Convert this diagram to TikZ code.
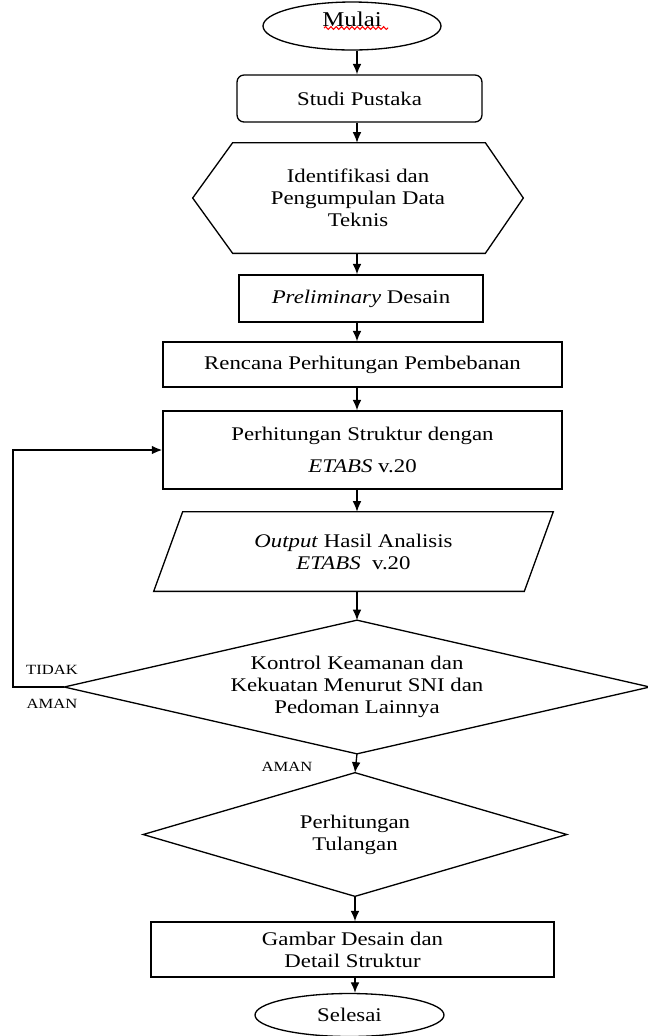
\documentclass[tikz,border=0pt]{standalone}
\usepackage{fontspec}
\setmainfont{Liberation Serif}[FakeStretch=1.18]
\usetikzlibrary{shapes.geometric,arrows.meta,decorations.pathmorphing}

\tikzset{
  txt/.style={font=\fontsize{11}{12.6}\selectfont, align=center, inner sep=0pt},
  box/.style={txt, draw, line width=0.75pt, rectangle},
  term/.style={txt, draw, line width=0.75pt, ellipse},
  outline/.style={line width=0.75pt, line join=miter},
  arr/.style={-{Latex[length=6pt,width=5pt]}, line width=0.75pt},
  tag/.style={font=\fontsize{8}{9}\selectfont, inner sep=0pt},
  spell/.style={red, line width=0.6pt, decorate, decoration={snake, amplitude=0.8pt, segment length=3pt}},
}

\begin{document}
\begin{tikzpicture}[x=0.02cm, y=-0.02cm]
  \useasboundingbox (0,0) rectangle (648,1036);
  \coordinate (axis) at (357,0);
  \coordinate (loop) at (13,450);

  \node[term, minimum width=3.56cm, minimum height=0.96cm, font=\fontsize{12}{14}\selectfont, text depth=8pt] (mulai) at (352,26) {Mulai};
  \node[box, rounded corners=4pt, minimum width=4.9cm, minimum height=0.94cm] (studi) at (359.5,98.5) {Studi Pustaka};
  \node[txt, minimum width=6.6cm, minimum height=2.2cm] (ident) at (358,198) {Identifikasi dan\\Pengumpulan Data\\Teknis};
  \node[box, minimum width=4.88cm, minimum height=0.94cm] (prelim) at (361,298.5) {\textit{Preliminary} Desain};
  \node[box, minimum width=7.98cm, minimum height=0.9cm] (beban) at (362.5,364.5) {Rencana Perhitungan Pembebanan};
  \node[box, minimum width=7.98cm, minimum height=1.56cm] (etabs) at (362.5,450) {Perhitungan Struktur dengan\\[6pt]\textit{ETABS} v.20};
  \node[txt, minimum width=7.98cm, minimum height=1.58cm] (output) at (353.5,551.5) {\textit{Output} Hasil Analisis\\\textit{ETABS}~~v.20};
  \node[txt, minimum width=11.7cm, minimum height=2.66cm] (kontrol) at (357,687) {Kontrol Keamanan dan\\Kekuatan Menurut SNI dan\\Pedoman Lainnya};
  \node[txt, minimum width=8.46cm, minimum height=2.46cm] (tulangan) at (355,834.5) {Perhitungan\\Tulangan};
  \node[box, minimum width=8.06cm, minimum height=1.1cm] (gambar) at (352.5,949.5) {Gambar Desain dan\\Detail Struktur};
  \node[term, minimum width=3.78cm, minimum height=0.86cm] (selesai) at (349.5,1015) {Selesai};

  \node[tag] (tidak) at (52,670) {TIDAK};
  \node[tag] (aman1) at (52,704) {AMAN};
  \node[tag] (aman2) at (287,767) {AMAN};

  % outlines of the shapes that are not plain boxes
  \draw[outline] (ident.west) -- ([xshift=0.8cm]ident.north west) -- ([xshift=-0.76cm]ident.north east)
    -- (ident.east) -- ([xshift=-0.76cm]ident.south east) -- ([xshift=0.8cm]ident.south west) -- cycle;
  \draw[outline] ([xshift=0.58cm]output.north west) -- (output.north east)
    -- ([xshift=-0.58cm]output.south east) -- (output.south west) -- cycle;
  \draw[outline] (kontrol.north) -- (kontrol.east) -- (kontrol.south) -- (kontrol.west) -- cycle;
  \draw[outline] (tulangan.north) -- (tulangan.east) -- (tulangan.south) -- (tulangan.west) -- cycle;
  \draw[spell] (324,28) -- (388,28);

  \draw[arr] (mulai.south -| axis) -- (studi.north -| axis);
  \draw[arr] (studi.south -| axis) -- (ident.north -| axis);
  \draw[arr] (ident.south -| axis) -- (prelim.north -| axis);
  \draw[arr] (prelim.south -| axis) -- (beban.north -| axis);
  \draw[arr] (beban.south -| axis) -- (etabs.north -| axis);
  \draw[arr] (etabs.south -| axis) -- (output.north -| axis);
  \draw[arr] (output.south -| axis) -- (kontrol.north);
  \draw[arr] (kontrol.south) -- (tulangan.north);
  \draw[arr] (tulangan.south) -- (gambar.north -| tulangan.south);
  \draw[arr] (gambar.south -| tulangan.south) -- (selesai.north -| tulangan.south);
  \draw[arr, line width=1.1pt] (kontrol.west) -| (loop) -- (etabs.west);
\end{tikzpicture}
\end{document}
